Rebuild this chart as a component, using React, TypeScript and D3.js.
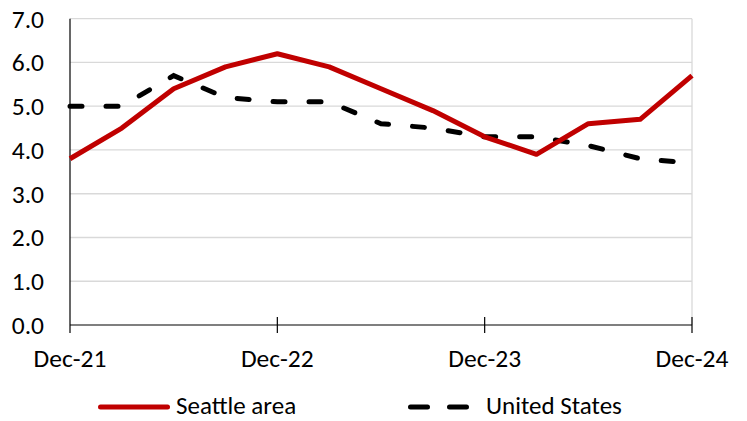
import React, { useEffect, useRef } from "react";
import * as d3 from "d3";

// quarterly points, Dec-21 .. Dec-24
const quarters = [
  "Dec-21", "Mar-22", "Jun-22", "Sep-22",
  "Dec-22", "Mar-23", "Jun-23", "Sep-23",
  "Dec-23", "Mar-24", "Jun-24", "Sep-24", "Dec-24",
];
const seattle = [3.8, 4.5, 5.4, 5.9, 6.2, 5.9, 5.4, 4.9, 4.3, 3.9, 4.6, 4.7, 5.7];
const usa = [5.0, 5.0, 5.7, 5.2, 5.1, 5.1, 4.6, 4.5, 4.3, 4.3, 4.1, 3.8, 3.7];
const xTickLabels = ["Dec-21", "Dec-22", "Dec-23", "Dec-24"];
const yTicks = [0, 1, 2, 3, 4, 5, 6, 7];

const FONT = "Carlito, Calibri, Lato, sans-serif";

export default function App() {
  const ref = useRef<SVGSVGElement>(null);

  useEffect(() => {
    const svg = d3.select(ref.current);
    svg.selectAll("*").remove();

    const w = 747, h = 421;
    const left = 70, right = 692, top = 18.7, bottom = 325;

    svg.attr("width", w).attr("height", h);

    const x = d3.scalePoint<string>().domain(quarters).range([left, right]);
    const y = d3.scaleLinear().domain([0, 7]).range([bottom, top]);

    // gridlines
    svg.append("g")
      .selectAll("line")
      .data(yTicks.filter((d) => d > 0))
      .enter()
      .append("line")
      .attr("x1", left)
      .attr("x2", right)
      .attr("y1", (d) => y(d))
      .attr("y2", (d) => y(d))
      .attr("stroke", "#d9d9d9")
      .attr("stroke-width", 1.3);

    // right border
    svg.append("line")
      .attr("x1", right).attr("x2", right)
      .attr("y1", top).attr("y2", bottom)
      .attr("stroke", "#d9d9d9")
      .attr("stroke-width", 1.3);

    // y labels
    svg.append("g")
      .selectAll("text")
      .data(yTicks)
      .enter()
      .append("text")
      .attr("x", 44)
      .attr("y", (d) => y(d))
      .attr("dy", "0.35em")
      .attr("text-anchor", "end")
      .attr("font-family", FONT)
      .attr("font-size", 25.5)
      .attr("fill", "#000")
      .text((d) => d3.format(".1f")(d));

    // x axis line + cross ticks
    svg.append("line")
      .attr("x1", left).attr("x2", right)
      .attr("y1", bottom).attr("y2", bottom)
      .attr("stroke", "#000")
      .attr("stroke-width", 1.2);
    svg.append("line")
      .attr("x1", left).attr("x2", left)
      .attr("y1", top).attr("y2", bottom + 8)
      .attr("stroke", "#000")
      .attr("stroke-width", 1.2);
    svg.append("g")
      .selectAll("line")
      .data(xTickLabels.slice(1))
      .enter()
      .append("line")
      .attr("x1", (d) => x(d)!)
      .attr("x2", (d) => x(d)!)
      .attr("y1", bottom - 8)
      .attr("y2", bottom + 8)
      .attr("stroke", "#000")
      .attr("stroke-width", 1.2);

    svg.append("g")
      .selectAll("text")
      .data(xTickLabels)
      .enter()
      .append("text")
      .attr("x", (d) => x(d)!)
      .attr("y", 367)
      .attr("text-anchor", "middle")
      .attr("font-family", FONT)
      .attr("font-size", 25.5)
      .attr("fill", "#000")
      .text((d) => d);

    const line = d3.line<number>()
      .x((_, i) => x(quarters[i])!)
      .y((d) => y(d));

    svg.append("path")
      .datum(usa)
      .attr("d", line)
      .attr("fill", "none")
      .attr("stroke", "#000")
      .attr("stroke-width", 5)
      .attr("stroke-linecap", "round")
      .attr("stroke-dasharray", "12 24");

    svg.append("path")
      .datum(seattle)
      .attr("d", line)
      .attr("fill", "none")
      .attr("stroke", "#c00000")
      .attr("stroke-width", 5)
      .attr("stroke-linejoin", "round");

    // legend
    const lg = svg.append("g");
    lg.append("line")
      .attr("x1", 100.5).attr("x2", 167.5)
      .attr("y1", 407).attr("y2", 407)
      .attr("stroke", "#c00000")
      .attr("stroke-width", 5)
      .attr("stroke-linecap", "round");
    lg.append("text")
      .attr("x", 176).attr("y", 414)
      .attr("font-family", FONT)
      .attr("font-size", 25)
      .text("Seattle area");
    lg.append("line")
      .attr("x1", 410.5).attr("x2", 467.5)
      .attr("y1", 407).attr("y2", 407)
      .attr("stroke", "#000")
      .attr("stroke-width", 5)
      .attr("stroke-linecap", "round")
      .attr("stroke-dasharray", "17 22");
    lg.append("text")
      .attr("x", 486).attr("y", 414)
      .attr("font-family", FONT)
      .attr("font-size", 25)
      .text("United States");
  }, []);

  return (
    <div style={{ position: "absolute", left: 0, top: 0 }}>
      <svg ref={ref}></svg>
    </div>
  );
}
